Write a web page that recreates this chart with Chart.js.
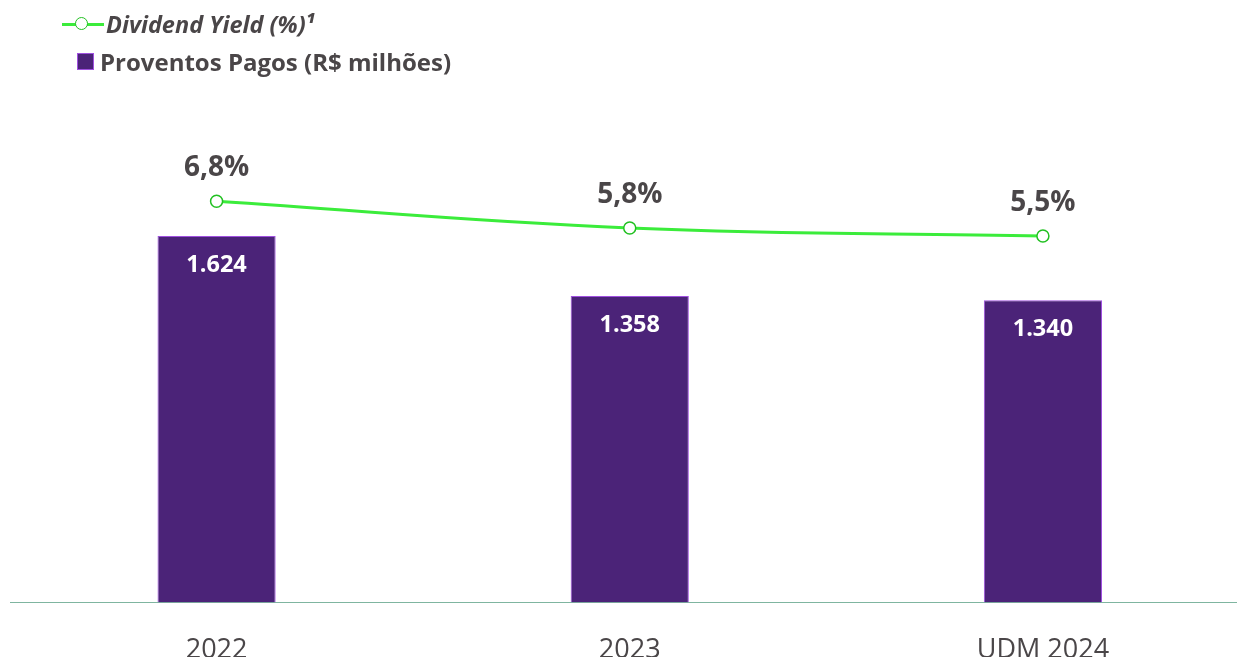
<!DOCTYPE html>
<html lang="pt-BR">
<head>
    <meta charset="UTF-8">
    <title>Proventos e Dividend Yield</title>
    <style>
        body {
            margin: 0;
            background: #fff;
            overflow: hidden;
            font-family: "Open Sans", Arial, sans-serif;
        }
        #wrap {
            position: relative;
            width: 1257px;
            height: 691px;
        }
        .legend {
            position: absolute;
            left: 0;
            top: 0;
            font-weight: bold;
            color: #4a4648;
        }
        .leg-row {
            position: absolute;
            white-space: nowrap;
            display: flex;
            align-items: center;
        }
        .leg-line {
            position: relative;
            width: 42px;
            height: 3px;
            background: #3bec3b;
            margin-right: 2px;
        }
        .leg-line span {
            position: absolute;
            left: 13px;
            top: -6px;
            width: 11px;
            height: 11px;
            border: 1.5px solid #22c022;
            border-radius: 50%;
            background: #fff;
        }
        .leg-box {
            width: 15px;
            height: 15px;
            background: #4b2378;
            border: 1px solid #a050e0;
            margin-right: 6px;
        }
    </style>
    <script src="https://cdn.jsdelivr.net/npm/chart.js"></script>
</head>
<body>
<div id="wrap">
    <canvas id="grafico" width="1257" height="691"></canvas>
    <div class="legend">
        <div class="leg-row" style="left:62px; top:8px; font-size:23.5px;">
            <div class="leg-line"><span></span></div>
            <i>Dividend Yield (%)¹</i>
        </div>
        <div class="leg-row" style="left:77px; top:45px; font-size:24px;">
            <div class="leg-box"></div>
            Proventos Pagos (R$ milhões)
        </div>
    </div>
</div>

<script>
    // dados do gráfico
    const anos = ['2022', '2023', 'UDM 2024'];
    const proventos = [1624, 1358, 1340];
    const dividendYield = [6.8, 5.8, 5.5];

    const formataMil = v => v.toLocaleString('pt-BR');
    const formataPct = v => v.toFixed(1).replace('.', ',') + '%';

    // rótulos por cima das barras e dos pontos
    const rotulos = {
        id: 'rotulos',
        afterDatasetsDraw(chart) {
            const ctx = chart.ctx;
            ctx.save();
            ctx.textAlign = 'center';
            ctx.textBaseline = 'middle';

            const barras = chart.getDatasetMeta(1).data;
            ctx.fillStyle = '#ffffff';
            ctx.font = 'bold 23.5px "Open Sans"';
            barras.forEach((b, i) => {
                ctx.fillText(formataMil(proventos[i]), b.x, b.y + 29);
            });

            const pontos = chart.getDatasetMeta(0).data;
            ctx.fillStyle = '#4a4648';
            ctx.font = 'bold 28px "Open Sans"';
            pontos.forEach((p, i) => {
                ctx.fillText(formataPct(dividendYield[i]), p.x, p.y - 33);
            });
            ctx.restore();
        }
    };

    new Chart(document.getElementById('grafico'), {
        data: {
            labels: anos,
            datasets: [
                {
                    type: 'line',
                    label: 'Dividend Yield (%)¹',
                    data: dividendYield,
                    yAxisID: 'y1',
                    borderColor: '#3bec3b',
                    borderWidth: 3,
                    tension: 0.4,
                    pointRadius: 6,
                    pointBorderWidth: 1.5,
                    pointBackgroundColor: '#ffffff',
                    pointBorderColor: '#22c022',
                    order: 0
                },
                {
                    type: 'bar',
                    label: 'Proventos Pagos (R$ milhões)',
                    data: proventos,
                    yAxisID: 'y',
                    backgroundColor: '#4b2378',
                    borderColor: '#a050e0',
                    borderWidth: 1,
                    categoryPercentage: 1,
                    barPercentage: 0.286,
                    order: 1
                }
            ]
        },
        options: {
            responsive: false,
            animation: false,
            layout: { padding: { left: 10, right: 0, top: 106, bottom: 0 } },
            plugins: {
                legend: { display: false },
                tooltip: { enabled: false }
            },
            scales: {
                x: {
                    grid: { display: false },
                    border: { display: true, color: '#7fb5a0', width: 1 },
                    ticks: {
                        color: '#4a4648',
                        font: { family: 'Open Sans', size: 27 },
                        padding: 24
                    }
                },
                y: {
                    display: false,
                    min: 0,
                    max: 2200
                },
                y1: {
                    display: false,
                    min: -8.27,
                    max: 10.38
                }
            }
        },
        plugins: [rotulos]
    });
</script>
</body>
</html>
